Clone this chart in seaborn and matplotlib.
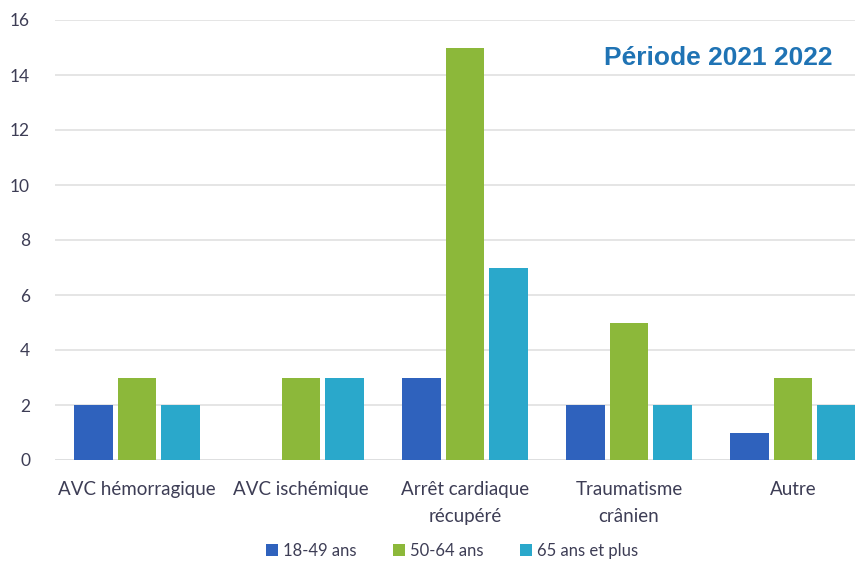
import matplotlib
matplotlib.use("Agg")
import matplotlib.pyplot as plt
import seaborn as sns
import pandas as pd

categories = ["AVC hémorragique", "AVC ischémique", "Arrêt cardiaque\nrécupéré",
              "Traumatisme\ncrânien", "Autre"]
groups = ["18-49 ans", "50-64 ans", "65 ans et plus"]
vals_18_49 = [2, 0, 3, 2, 1]
vals_50_64 = [3, 3, 15, 5, 3]
vals_65_plus = [2, 3, 7, 2, 2]
yticks = [0, 2, 4, 6, 8, 10, 12, 14, 16]
title = "Période 2021 2022"

colors = ["#2f62bd", "#8cb83a", "#2aa8cb"]

df = pd.DataFrame({
    "cat": categories * 3,
    "grp": [groups[0]] * 5 + [groups[1]] * 5 + [groups[2]] * 5,
    "val": vals_18_49 + vals_50_64 + vals_65_plus,
})

sns.set_theme(style="white")
plt.rcParams["font.family"] = ["Lato", "DejaVu Sans"]

fig = plt.figure(figsize=(8.55, 5.63), dpi=100)
ax = fig.add_axes([55 / 855, 1 - 460 / 563, 820 / 855, 440 / 563])

sns.barplot(data=df, x="cat", y="val", hue="grp", palette=colors,
            width=0.8, gap=0.12, ax=ax, legend=True, saturation=1,
            linewidth=0, edgecolor="none")

ax.set_ylim(0, 16)
ax.set_xlim(-0.5, 4.5)
ax.set_yticks(yticks)
ax.yaxis.grid(True, color="#e0e0e0", linewidth=1.2)
ax.set_axisbelow(True)
for s in ax.spines.values():
    s.set_visible(False)
ax.axhline(0, color="#d3d6de", linewidth=1.2, zorder=0)
ax.set_xlabel("")
ax.set_ylabel("")
ax.tick_params(axis="y", labelsize=12.5, labelcolor="#3d3d55", pad=18, length=0)
ax.tick_params(axis="x", labelsize=13.5, labelcolor="#3d3d55", pad=15, length=0)
for lab in ax.get_xticklabels():
    lab.set_linespacing(1.75)

fig.text(832 / 855, 1 - 58 / 563, title, ha="right", va="center",
         fontsize=19, fontweight="bold", color="#1f73b4",
         family=["Liberation Sans", "DejaVu Sans"])

handles, labels = ax.get_legend_handles_labels()
ax.get_legend().remove()
fig.legend(handles, labels, loc="center", bbox_to_anchor=(452 / 855, 1 - 551 / 563),
           ncol=3, frameon=False, fontsize=12, handlelength=0.7, handleheight=0.7,
           handletextpad=0.3, columnspacing=2.2, labelcolor="#3d3d55")

fig.savefig("out.png", dpi=100)
